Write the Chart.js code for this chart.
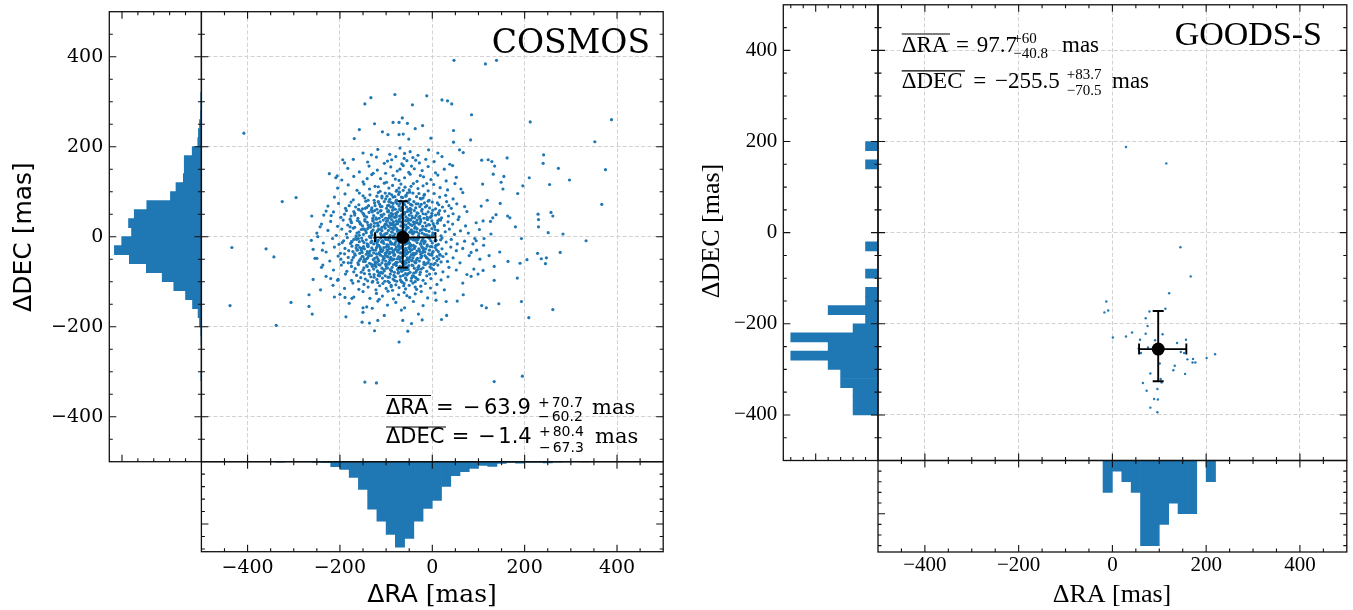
<!DOCTYPE html>
<html><head><meta charset="utf-8">
<script src="https://cdn.jsdelivr.net/npm/chart.js@4.4.1/dist/chart.umd.min.js"></script>
<style>
html,body{margin:0;padding:0;background:#fff;width:1353px;height:610px;overflow:hidden}
canvas{position:absolute;left:0;top:0}
</style></head><body>
<script>
// ---------------- DATA ----------------
const raMajor = [-400,-200,0,200,400];
const raMinor = [-450,-350,-300,-250,-150,-100,-50,50,100,150,250,300,350,450];

// COSMOS histograms (bin centres, counts)
const cosmosRABins   = [-330,-310,-290,-270,-250,-230,-210,-190,-170,-150,-130,-110,-90,-70,-50,-30,-10,10,30,50,70,90,110,130,150,170,190,210,230,250,270,290,310,330];
const cosmosRACounts = [3,0,2,2,5,8,40,62,126,222,380,477,584,686,616,477,375,311,198,113,80,54,29,38,13,5,11,5,5,10,3,2,0,2];
const cosmosDecBins   = [310,290,270,250,230,210,190,170,150,130,110,90,70,50,30,10,-10,-30,-50,-70,-90,-110,-130,-150,-170,-190,-210,-230,-250,-270,-290,-310];
const cosmosDecCounts = [4,4,6,12,19,23,58,108,108,114,160,195,344,423,459,440,502,548,454,347,247,174,100,56,21,12,4,2,0,0,0,3];
const cosmosMean = [-63.9, -1.4];
const cosmosRAErr = [60.2, 70.7];
const cosmosDecErr = [67.3, 80.4];

// COSMOS scatter: sparse outer points [RA, DEC]
const cosmosOuter = [[-408,230],[-434,-24],[-438,-153],[-360,-27],[-343,-45],[-325,78],[-295,87],[-306,-146],[-338,-197],
[-267,-155],[-260,-172],[-267,-129],[-242,-118],[-258,-95],[-254,-48],[-237,-63],[-238,-30],[-248,0],[-243,22],[-261,46],
[-230,57],[-219,47],[-223,140],[-209,131],[-206,135],[-187,-178],[-194,171],[-169,218],[-158,238],[-146,295],[-133,309],
[-81,316],[-12,313],[-43,293],[21,304],[33,302],[42,295],[85,271],[-65,264],[-85,254],[-72,254],[-54,252],[-125,251],
[-108,233],[-96,227],[-72,227],[-63,228],[-51,217],[-37,240],[-21,247],[-3,219],[46,236],[83,215],[46,210],[59,193],[67,187],
[212,255],[388,260],[352,211],[375,149],[367,72],[333,-9],[297,126],[273,152],[241,182],[240,163],[254,116],[210,131],
[196,113],[185,96],[229,50],[257,54],[261,46],[230,38],[230,22],[251,9],[283,6],[277,-35],[247,-47],[236,-49],[245,-60],
[228,-37],[205,-51],[190,-59],[184,-92],[193,-144],[209,-180],[261,-162],[195,-310],[180,22],[193,-4],[163,46],[168,42],
[162,175],[149,121],[155,134],[153,106],[132,139],[135,157],[121,171],[129,167],[107,170],[109,117],[119,81],[147,74],
[138,49],[131,42],[126,34],[106,68],[110,35],[127,6],[112,-4],[95,-9],[88,-16],[96,-30],[111,-19],[103,-50],[123,-42],
[134,-66],[146,-34],[164,-55],[110,-75],[90,-72],[99,-83],[134,-97],[107,-153],[117,-158],[144,-149],[84,-88],[75,-84],
[66,-103],[67,-129],[54,-143],[31,-175],[20,-184],[8,-141],[30,-144],[-22,-185],[-53,-210],[-72,-234],[-64,-186],
[-125,-209],[-136,-192],[-152,-190],[-150,-158],[-174,-137],[-189,-135],[-212,-134],[-220,-93],[-205,-97],
[47,392],[115,384],[139,392],[-146,-323],[-121,-325],[134,-322]];

// COSMOS scatter: dense core [RA, DEC]
const cosmosCore = [
[-150,186],[-118,194],[-92,183],[-70,197],[-48,189],[-31,181],[-8,193],[12,186],[-132,182],[-60,185],
[-171,172],[-140,166],[-121,177],[-104,163],[-88,171],[-79,178],[-66,162],[-55,169],[-42,176],[-28,164],[-14,172],[4,167],[21,178],[38,161],[-97,168],[-61,174],[-36,170],[-190,164],
[-183,152],[-158,144],[-137,157],[-119,148],[-101,141],[-90,155],[-76,146],[-63,158],[-51,143],[-39,151],[-22,147],[-9,156],[7,142],[26,150],[44,158],[-128,141],[-70,150],[-45,157],
[-196,126],[-170,134],[-150,122],[-131,138],[-112,129],[-99,121],[-85,136],[-72,125],[-60,131],[-48,139],[-33,123],[-19,133],[-3,127],[12,137],[30,124],[52,132],[-141,129],[-80,128],[-26,136],
[-205,108],[-182,115],[-163,103],[-148,117],[-136,106],[-124,112],[-113,101],[-104,119],[-94,108],[-86,114],[-77,103],[-68,117],[-59,110],[-50,104],[-41,118],[-31,107],[-20,113],[-9,102],[3,116],[17,109],[33,104],[49,118],[-117,111],[-72,108],[-46,112],[-12,118],[62,106],
[-212,88],[-189,95],[-171,82],[-158,97],[-146,86],[-135,93],[-126,81],[-117,98],[-109,90],[-101,84],[-93,96],[-85,88],[-78,81],[-71,99],[-64,87],[-57,92],[-49,83],[-42,97],[-34,89],[-26,85],[-17,94],[-7,81],[4,96],[16,88],[29,92],[45,84],[66,98],[-120,90],[-88,93],[-54,97],[-20,86],[-150,91],
[-226,68],[-203,74],[-188,63],[-176,77],[-166,66],[-159,71],[-151,62],[-144,79],[-138,69],[-131,64],[-125,75],[-120,61],[-114,72],[-109,67],[-104,78],[-99,63],[-94,70],[-89,76],[-85,65],[-80,61],[-76,73],[-72,68],[-68,79],[-64,62],[-60,71],[-56,66],[-52,76],[-48,63],[-44,70],[-40,78],[-36,64],[-31,73],[-27,67],[-22,61],[-17,75],[-12,69],[-6,64],[0,77],[7,62],[14,71],[22,66],[31,78],[41,63],[53,73],[70,67],[-142,65],[-117,78],[-97,69],[-79,77],[-62,74],[-46,61],[-24,72],[-9,79],[-160,61],[-180,69],[11,75],[36,69],
[-235,48],[-214,55],[-198,43],[-186,58],[-176,46],[-168,52],[-161,41],[-154,57],[-148,49],[-142,44],[-137,54],[-132,59],[-127,47],[-122,42],[-118,53],[-113,57],[-109,45],[-105,50],[-101,41],[-97,56],[-93,47],[-89,52],[-86,59],[-82,43],[-78,49],[-75,55],[-71,46],[-68,58],[-64,41],[-61,51],[-57,44],[-54,56],[-50,48],[-46,53],[-43,42],[-39,58],[-35,47],[-31,52],[-27,45],[-23,57],[-18,41],[-14,50],[-9,55],[-4,44],[1,59],[7,48],[13,53],[20,42],[27,57],[35,46],[45,51],[58,44],[75,56],[-150,52],[-129,41],[-111,48],[-95,58],[-80,44],[-66,49],[-52,59],[-38,42],[-20,51],[-1,47],[16,58],[-170,56],[-190,50],[-125,58],[-87,46],[-59,54],[-11,43],
[-240,28],[-220,34],[-205,23],[-193,37],[-183,26],[-175,31],[-168,21],[-162,36],[-156,29],[-151,24],[-146,38],[-141,32],[-137,22],[-133,27],[-129,35],[-125,30],[-121,39],[-117,25],[-113,33],[-109,21],[-106,37],[-102,28],[-99,34],[-95,23],[-92,31],[-88,38],[-85,26],[-81,22],[-78,35],[-75,29],[-71,39],[-68,24],[-65,32],[-61,27],[-58,36],[-55,21],[-51,30],[-48,38],[-44,25],[-41,33],[-37,22],[-33,37],[-29,28],[-25,34],[-21,23],[-16,31],[-11,39],[-6,26],[-1,35],[5,22],[11,30],[18,37],[26,25],[34,33],[44,28],[56,38],[72,24],[95,31],[-158,33],[-139,26],[-119,30],[-104,24],[-90,27],[-73,34],[-63,21],[-53,35],[-39,28],[-26,39],[-13,24],[2,29],[15,38],[-178,39],[-126,23],[-84,33],[-57,26],[-33,31],
[-250,8],[-226,14],[-208,3],[-196,17],[-186,6],[-178,12],[-171,19],[-165,2],[-159,10],[-154,16],[-149,5],[-144,13],[-140,18],[-136,1],[-132,9],[-128,15],[-124,4],[-120,11],[-116,17],[-112,7],[-109,13],[-105,2],[-102,19],[-98,8],[-95,14],[-91,3],[-88,11],[-84,16],[-81,6],[-77,18],[-74,9],[-70,1],[-67,14],[-63,5],[-60,12],[-56,17],[-53,3],[-49,10],[-46,15],[-42,6],[-38,19],[-34,11],[-30,2],[-26,14],[-22,8],[-17,17],[-12,4],[-7,12],[-1,18],[5,7],[12,14],[19,2],[28,11],[37,17],[48,5],[61,13],[78,8],[102,16],[-147,17],[-131,4],[-118,14],[-100,7],[-86,19],[-69,10],[-58,2],[-44,13],[-29,7],[-15,16],[0,3],[-163,8],[-110,3],[-76,13],[-40,9],
[-262,-8],[-236,-14],[-216,-4],[-202,-17],[-192,-9],[-184,-2],[-177,-15],[-170,-6],[-164,-19],[-158,-11],[-153,-3],[-148,-13],[-143,-7],[-139,-18],[-135,-1],[-131,-10],[-127,-16],[-123,-5],[-119,-12],[-116,-19],[-112,-3],[-108,-9],[-105,-15],[-101,-6],[-98,-18],[-94,-2],[-91,-11],[-87,-16],[-84,-4],[-80,-13],[-77,-8],[-73,-19],[-70,-1],[-66,-12],[-63,-6],[-59,-17],[-56,-3],[-52,-10],[-49,-15],[-45,-5],[-41,-19],[-37,-8],[-33,-13],[-29,-2],[-25,-16],[-21,-7],[-16,-11],[-11,-18],[-6,-4],[0,-14],[6,-9],[13,-17],[21,-3],[30,-12],[41,-6],[54,-16],[70,-10],[92,-4],[-151,-9],[-141,-16],[-125,-2],[-110,-12],[-96,-7],[-82,-17],[-68,-9],[-54,-14],[-39,-3],[-23,-10],[-9,-1],[8,-19],[-175,-11],[-160,-4],[-133,-13],[-117,-8],[-103,-1],[-89,-14],[-75,-5],[-61,-11],[-47,-18],[-31,-6],[-18,-15],[-3,-9],[18,-7],[-195,-13],
[-258,-28],[-230,-34],[-212,-23],[-199,-37],[-189,-26],[-181,-31],[-174,-21],[-168,-38],[-162,-29],[-157,-24],[-152,-35],[-147,-27],[-143,-39],[-139,-22],[-135,-32],[-131,-25],[-127,-36],[-123,-30],[-119,-21],[-116,-38],[-112,-27],[-109,-33],[-105,-24],[-102,-37],[-98,-29],[-95,-22],[-92,-35],[-88,-26],[-85,-31],[-82,-39],[-78,-23],[-75,-34],[-72,-28],[-68,-36],[-65,-21],[-62,-31],[-58,-26],[-55,-38],[-51,-24],[-48,-33],[-44,-29],[-41,-37],[-37,-22],[-33,-32],[-29,-27],[-25,-39],[-21,-25],[-16,-34],[-11,-21],[-6,-30],[0,-36],[6,-24],[13,-33],[21,-27],[30,-38],[40,-23],[52,-31],[66,-26],[84,-35],[-154,-30],[-137,-37],[-121,-25],[-107,-30],[-93,-38],[-80,-28],[-67,-24],[-53,-35],[-39,-26],[-27,-33],[-14,-27],[-1,-22],[16,-39],[-172,-33],[-149,-22],[-129,-29],[-114,-35],[-100,-23],[-86,-35],[-73,-21],[-60,-35],[-46,-21],[-35,-37],[-19,-31],[-8,-38],[9,-29],[-190,-38],[-165,-25],[-141,-33],[-97,-32],[-56,-30],[-23,-22],
[-250,-48],[-222,-54],[-204,-43],[-192,-57],[-182,-46],[-174,-52],[-167,-41],[-161,-58],[-155,-49],[-150,-44],[-145,-55],[-140,-47],[-136,-59],[-132,-42],[-128,-51],[-124,-56],[-120,-45],[-116,-53],[-112,-41],[-109,-58],[-105,-48],[-101,-54],[-98,-43],[-94,-57],[-90,-46],[-87,-52],[-83,-41],[-80,-59],[-76,-49],[-73,-44],[-69,-55],[-66,-47],[-62,-58],[-59,-42],[-55,-51],[-51,-56],[-48,-45],[-44,-53],[-40,-41],[-36,-58],[-32,-48],[-28,-54],[-23,-43],[-18,-57],[-13,-46],[-7,-52],[-1,-41],[6,-59],[14,-49],[23,-44],[33,-55],[45,-47],[60,-58],[80,-42],[-158,-53],[-138,-43],[-122,-59],[-107,-44],[-92,-51],[-78,-57],[-64,-43],[-50,-50],[-38,-56],[-25,-47],[-10,-58],[3,-48],[-176,-58],[-147,-50],[-118,-49],[-96,-45],[-71,-50],[-57,-59],[-42,-47],[-16,-42],[10,-53],[-198,-50],
[-240,-68],[-214,-74],[-197,-63],[-185,-77],[-175,-66],[-167,-71],[-160,-62],[-154,-79],[-148,-69],[-142,-64],[-137,-75],[-132,-61],[-127,-72],[-122,-67],[-118,-78],[-113,-63],[-109,-70],[-104,-76],[-100,-65],[-95,-61],[-91,-73],[-87,-68],[-82,-79],[-78,-64],[-74,-71],[-70,-66],[-66,-77],[-61,-62],[-57,-73],[-53,-68],[-48,-79],[-44,-63],[-39,-70],[-34,-75],[-29,-65],[-24,-72],[-18,-61],[-12,-77],[-5,-67],[3,-73],[12,-63],[23,-78],[36,-68],[52,-74],[-150,-74],[-130,-66],[-111,-79],[-97,-69],[-84,-62],[-68,-73],[-51,-64],[-36,-79],[-20,-69],[-3,-61],[-170,-78],[-125,-62],[-89,-76],[-59,-70],
[-230,-88],[-204,-95],[-188,-83],[-175,-97],[-164,-86],[-155,-91],[-147,-82],[-140,-98],[-133,-89],[-126,-84],[-120,-95],[-114,-81],[-108,-92],[-102,-87],[-96,-99],[-91,-83],[-85,-94],[-80,-89],[-74,-81],[-69,-96],[-63,-86],[-58,-92],[-52,-82],[-46,-98],[-40,-88],[-33,-94],[-27,-84],[-20,-97],[-12,-87],[-3,-93],[7,-82],[19,-96],[34,-89],[-145,-94],[-117,-86],[-93,-90],[-77,-99],[-55,-85],[-36,-91],[-6,-83],[-160,-99],
[-215,-108],[-190,-115],[-172,-103],[-159,-117],[-148,-106],[-139,-112],[-130,-101],[-122,-118],[-114,-109],[-107,-104],[-100,-115],[-93,-102],[-86,-119],[-79,-107],[-72,-113],[-65,-101],[-58,-116],[-50,-108],[-42,-103],[-34,-117],[-25,-110],[-15,-104],[-4,-114],[10,-106],[26,-118],[-118,-102],[-89,-111],[-62,-109],[-37,-112],
[-200,-128],[-170,-134],[-150,-122],[-135,-137],[-121,-126],[-108,-132],[-96,-121],[-84,-138],[-73,-129],[-61,-124],[-49,-135],[-37,-127],[-24,-122],[-10,-136],[6,-125],[-115,-139],[-55,-131],
[-180,-148],[-142,-156],[-118,-143],[-97,-152],[-79,-146],[-60,-158],[-41,-144],[-20,-153],[-130,-159],
[-150,-168],[-104,-175],[-67,-163],[-30,-172],[-118,-186],[-45,-193]];

// COSMOS scatter: additional points in the crowded centre [RA, DEC]
const cosmosCentre = [[-66,3],[-71,-22],[-58,14],[-80,-5],[-49,-27],[-90,19],[-62,-41],[-75,31],[-55,-12],[-84,-33],[-44,8],[-97,-18],[-68,45],[-38,-38],[-103,6],[-59,-55],[-79,52],[-33,18],[-112,-29],[-47,37],[-88,-49],[-26,-16],[-118,24],[-64,-68],[-95,41],[-36,-57],[-123,-8],[-52,61],[-107,-52],[-29,43],[-131,12],[-73,-79],[-86,67],[-21,-35],[-140,-21],[-57,79],[-99,-70],[-17,5],[-146,35],[-40,-81],[-111,58],[-11,-48],[-152,-44],[-67,88],[-124,-64],[-8,27],[-158,3],[-31,-95],[-92,83],[-4,-22],[-163,-30],[-49,99],[-136,-83],[-1,52],[-168,48],[-82,-97],[-117,77],[3,-62],[-174,-11],[-24,84],[-145,63],[8,-8],[-178,22],[-61,-104],[-102,97],[12,35],[-182,-58],[-15,66],[-129,-99],[17,-41],[-73,14],[-56,-2],[-81,-17],[-63,24],[-48,-19],[-92,-3],[-70,-36],[-39,11],[-86,30],[-59,-30],[-101,-41],[-44,46],[-76,-57],[-95,55],[-34,-6],[-111,16],[-52,-73],[-66,65],[-27,29],[-120,-15],[-42,-64],[-85,74],[-19,-26],[-128,37],[-69,-88],[-105,-73],[-13,14],[-137,-37],[-57,90],[-96,-90],[-9,-58],[-143,9],[-35,73],[-114,-87],[-4,43],[-149,-55],[-78,101],[-130,55],[2,-33],[-155,28],[-26,-79],[-109,86],[6,16],[-161,-19],[-89,-108],[-60,0],[-74,-9],[-52,20],[-87,10],[-66,-25],[-45,-40],[-99,27],[-78,44],[-61,50],[-39,-25],[-92,-58],[-54,-47],[-82,-41],[-30,0],[-107,-10],[-71,61],[-48,58],[-115,41],[-24,-45],[-65,-58],[-101,-61],[-33,53],[-125,-48],[-58,-82],[-90,66],[-16,-10],[-133,-2],[-45,-92],[-77,81],[-10,38],[-141,-66],[-63,103],[-119,-76],[-5,-40],[-150,17],[-29,96],[-103,-99],[1,8],[-157,-37],[-83,-86],[-98,90],[9,-19],[-165,-1],[-37,-100],[-124,69],[14,50],[-171,-46],[-56,-96],[-139,81],[19,-56],[-176,34],[-18,92],[-72,-14],[-84,2],[-55,-15],[-68,33],[-93,-27],[-47,27],[-79,-62],[-60,-34],[-104,-47],[-41,-7],[-86,50],[-53,40],[-113,-23],[-34,-51],[-70,74],[-97,36],[-28,-30],[-121,-38],[-62,-74],[-108,-81],[-22,16],[-134,21],[-50,82],[-88,-76],[-15,-62],[-142,-49],[-73,94],[-126,-90],[-7,2],[-147,46],[-43,-87],[-112,67],[-2,-70],[-153,-26],[-67,-100],[-94,78],[4,24],[-159,60],[-31,-68],[-116,-62],[10,-44],[-164,-6],[-80,27],[-76,-30],[-57,-67],[-90,-16],[-65,10],[-50,-5],[-83,-50],[-69,-46],[-44,-53],[-99,-35],[-58,35],[-91,44],[-37,32],[-106,1],[-75,-73],[-47,72],[-118,-55],[-30,-72],[-81,89],[-20,-3]];

// GOODS-S
const goodsPoints = [[29,188],[115,152],[145,-32],[167,-96],[121,-133],[113,-167],[-13,-151],[-17,-175],[-9,-171],[79,-173],
[71,-188],[75,-205],[71,-222],[42,-219],[29,-228],[1,-230],[59,-235],[91,-236],[107,-223],[138,-242],[157,-235],[76,-252],
[56,-254],[61,-264],[146,-262],[153,-264],[160,-278],[172,-277],[171,-285],[177,-285],[201,-275],[219,-267],[101,-287],
[133,-292],[130,-302],[155,-310],[81,-309],[103,-321],[105,-329],[65,-330],[73,-347],[96,-343],[89,-365],[97,-366],
[81,-384],[96,-394],[95,-255]];
const goodsRABins   = [-10,10,30,50,70,90,110,130,150,170,190,210];
const goodsRACounts = [3,1,2,3,8,8,6,4,5,5,0,2];
const goodsDecBins   = [190,170,150,130,110,90,70,50,30,10,-10,-30,-50,-70,-90,-110,-130,-150,-170,-190,-210,-230,-250,-270,-290,-310,-330,-350,-370,-390];
const goodsDecCounts = [1,0,1,0,0,0,0,0,0,0,0,1,0,0,1,0,1,1,4,1,2,7,4,7,4,3,3,2,2,2];
const goodsMean = [97.7, -255.5];
const goodsRAErr = [40.8, 60];
const goodsDecErr = [70.5, 83.7];

// ---------------- HELPERS ----------------
const W = 1353, H = 610;
const BLUE = '#1f77b4';
const LBL = 100;   // room reserved for tick labels
const fmt = v => (v < 0 ? '\u2212' : '') + Math.abs(v);
function mkCanvas(){ const c=document.createElement('canvas'); c.width=W; c.height=H; c.style.width=W+'px'; c.style.height=H+'px'; document.body.appendChild(c); return c; }
function pad(b, extraL, extraB){ return {left:b[0]-(extraL||0), top:b[1], right:W-b[2], bottom:H-b[3]-(extraB||0)}; }
function axis(o){
  const size = o.size || 0;
  return {
    type:'linear', min:o.min, max:o.max, reverse:!!o.reverse, offset:false,
    position:o.position,
    afterFit: s => { if (s.isHorizontal()) s.height = size; else s.width = size;
                     s.paddingTop = 0; s.paddingBottom = 0; s.paddingLeft = 0; s.paddingRight = 0; },
    afterBuildTicks: s => { s.ticks = (o.ticks||[]).map(v => ({value:v})); },
    ticks:{ display:!!o.labels, callback:v=>fmt(v), color:'#000', padding:o.padding||6, font:o.font, autoSkip:false, maxRotation:0, minRotation:0 },
    grid:{ display:!!o.grid, drawTicks:false, color:'#d2d2d2', lineWidth:1, offset:false },
    border:{ display:false, dash:[4,2.2] }
  };
}
function frame(spec){
  return { id:'frame', afterDatasetsDraw(chart){
    const {ctx, chartArea:a} = chart; const xs = chart.scales.x, ys = chart.scales.y;
    ctx.save(); ctx.strokeStyle = '#111'; ctx.lineWidth = 1.1; ctx.beginPath();
    const ML = 7, ml = 3.5;
    const doX = (vals, len) => vals.forEach(v => { const p = xs.getPixelForValue(v); if (p < a.left+1 || p > a.right-1) return;
      ctx.moveTo(p, a.bottom); ctx.lineTo(p, a.bottom-len); ctx.moveTo(p, a.top); ctx.lineTo(p, a.top+len); });
    const doY = (vals, len) => vals.forEach(v => { const p = ys.getPixelForValue(v); if (p < a.top+1 || p > a.bottom-1) return;
      ctx.moveTo(a.left, p); ctx.lineTo(a.left+len, p); ctx.moveTo(a.right, p); ctx.lineTo(a.right-len, p); });
    doX(spec.xMajor||[], ML); doX(spec.xMinor||[], ml); doY(spec.yMajor||[], ML); doY(spec.yMinor||[], ml);
    ctx.stroke();
    ctx.lineWidth = 1.3; ctx.strokeRect(a.left, a.top, a.right-a.left, a.bottom-a.top);
    ctx.restore();
  }};
}
function errbar(mean, exErr, eyErr, cap){
  return { id:'errbar', afterDatasetsDraw(chart){
    const {ctx} = chart; const xs = chart.scales.x, ys = chart.scales.y;
    const cx = xs.getPixelForValue(mean[0]), cy = ys.getPixelForValue(mean[1]);
    const x0 = xs.getPixelForValue(mean[0]-exErr[0]), x1 = xs.getPixelForValue(mean[0]+exErr[1]);
    const y0 = ys.getPixelForValue(mean[1]-eyErr[0]), y1 = ys.getPixelForValue(mean[1]+eyErr[1]);
    ctx.save(); ctx.strokeStyle = '#000'; ctx.lineWidth = 1.9; ctx.beginPath();
    ctx.moveTo(x0, cy); ctx.lineTo(x1, cy); ctx.moveTo(cx, y0); ctx.lineTo(cx, y1);
    ctx.moveTo(x0, cy-cap); ctx.lineTo(x0, cy+cap); ctx.moveTo(x1, cy-cap); ctx.lineTo(x1, cy+cap);
    ctx.moveTo(cx-cap, y0); ctx.lineTo(cx+cap, y0); ctx.moveTo(cx-cap, y1); ctx.lineTo(cx+cap, y1);
    ctx.stroke(); ctx.restore();
  }};
}
const baseOpts = { responsive:false, animation:false, devicePixelRatio:1,
  plugins:{ legend:{display:false}, tooltip:{enabled:false} }, events:[] };

function scatterChart(box, pts, mean, exErr, eyErr, r, cap){
  return new Chart(mkCanvas(), {
    type:'scatter',
    data:{ datasets:[
      { data:[{x:mean[0], y:mean[1]}], pointRadius:6.5, pointBackgroundColor:'#000', pointBorderWidth:0 },
      { data:pts.map(p => ({x:p[0], y:p[1]})), pointRadius:r, pointBackgroundColor:BLUE, pointBorderWidth:0 }
    ]},
    options:{ ...baseOpts, layout:{padding:pad(box), autoPadding:false},
      scales:{ x:axis({min:-500,max:500,ticks:raMajor,grid:true,position:'bottom'}),
               y:axis({min:-500,max:500,ticks:raMajor,grid:true,position:'left'}) } },
    plugins:[errbar(mean, exErr, eyErr, cap), frame({xMajor:raMajor,xMinor:raMinor,yMajor:raMajor,yMinor:raMinor})]
  });
}
function leftHist(box, bins, counts, cmax, cMajor, cMinor, font, padding){
  return new Chart(mkCanvas(), {
    type:'bar',
    data:{ datasets:[{ data:bins.map((b,i) => ({y:b, x:counts[i]})), backgroundColor:BLUE, borderWidth:0, barPercentage:1, categoryPercentage:1 }]},
    options:{ ...baseOpts, indexAxis:'y', layout:{padding:pad(box, LBL, 0), autoPadding:false},
      scales:{ x:axis({min:0,max:cmax,reverse:true,ticks:[],position:'bottom'}),
               y:axis({min:-500,max:500,ticks:raMajor,labels:true,font,padding,position:'left',size:LBL}) } },
    plugins:[frame({xMajor:cMajor,xMinor:cMinor,yMajor:raMajor,yMinor:raMinor})]
  });
}
function bottomHist(box, bins, counts, cmax, cMajor, cMinor, font, padding){
  return new Chart(mkCanvas(), {
    type:'bar',
    data:{ datasets:[{ data:bins.map((b,i) => ({x:b, y:counts[i]})), backgroundColor:BLUE, borderWidth:0, barPercentage:1, categoryPercentage:1 }]},
    options:{ ...baseOpts, layout:{padding:pad(box, 0, 40), autoPadding:false},
      scales:{ x:axis({min:-500,max:500,ticks:raMajor,labels:true,font,padding,position:'bottom',size:40}),
               y:axis({min:0,max:cmax,reverse:true,ticks:[],position:'left'}) } },
    plugins:[frame({xMajor:raMajor,xMinor:raMinor,yMajor:cMajor,yMinor:cMinor})]
  });
}

// ---------------- CHARTS ----------------
const fC = {family:'DejaVu Serif', size:19};
const fG = {family:'Liberation Serif', size:21};
leftHist([109.3,11.7,201.4,461.7], cosmosDecBins, cosmosDecCounts, 580, [500], [100,200,300,400], fC, 6);
bottomHist([201.4,461.7,663.2,551.7], cosmosRABins, cosmosRACounts, 722, [500], [100,200,300,400,600,700], fC, 5);
scatterChart([201.4,11.7,663.2,461.7], cosmosOuter.concat(cosmosCore, cosmosCentre), cosmosMean, cosmosRAErr, cosmosDecErr, 1.6, 5);

leftHist([783.3,4.8,878,460.5], goodsDecBins, goodsDecCounts, 7.6, [5], [1,2,3,4,6,7], fG, 6);
bottomHist([878,460.5,1346.8,552], goodsRABins, goodsRACounts, 8.6, [5], [1,2,3,4,6,7,8], fG, 1);
scatterChart([878,4.8,1346.8,460.5], goodsPoints, goodsMean, goodsRAErr, goodsDecErr, 1.2, 5.5);

// ---------------- TEXT ----------------
(function(){
  const c = mkCanvas(); const ctx = c.getContext('2d');
  ctx.fillStyle = '#000'; ctx.strokeStyle = '#000';
  function t(s, x, y, font, align){ ctx.font = font; ctx.textAlign = align||'left'; ctx.textBaseline = 'alphabetic'; ctx.fillText(s, x, y); }
  function over(x0, x1, y){ ctx.save(); ctx.lineWidth = 1.2; ctx.beginPath(); ctx.moveTo(x0, y); ctx.lineTo(x1, y); ctx.stroke(); ctx.restore(); }
  function rot(s, x, y, font){ ctx.save(); ctx.translate(x, y); ctx.rotate(-Math.PI/2); t(s, 0, 0, font, 'center'); ctx.restore(); }
  // COSMOS
  const S = '21px "DejaVu Sans"', SS = '14px "DejaVu Sans"', SR = '21px "DejaVu Serif"';
  t('COSMOS', 650, 53, '33px "DejaVu Serif"', 'right');
  t('\u0394RA', 386, 414.3, S); over(386, 431, 395.5);
  t('=', 436, 414.3, S); t('\u2212', 463, 414.3, S); t('63.9', 484, 414.3, S);
  t('+', 538, 406.7, SS); t('70.7', 551.7, 406.7, SS); t('\u2212', 538, 420.5, SS); t('60.2', 551.7, 420.5, SS);
  t('mas', 592, 414.3, SR);
  t('\u0394DEC', 386, 443.3, S); over(386, 446, 427);
  t('=', 451.7, 443.3, S); t('\u2212', 478.3, 443.3, S); t('1.4', 498.3, 443.3, S);
  t('+', 539, 436, SS); t('80.4', 552.7, 436, SS); t('\u2212', 539, 451.7, SS); t('67.3', 552.7, 451.7, SS);
  t('mas', 595, 443.3, SR);
  // COSMOS axis titles
  ctx.font = '25px "DejaVu Sans"'; const w1 = ctx.measureText('\u0394RA ').width;
  ctx.font = '25px "DejaVu Serif"'; const w2 = ctx.measureText('[mas]').width;
  const x0 = 432 - (w1+w2)/2;
  t('\u0394RA ', x0, 602, '25px "DejaVu Sans"'); t('[mas]', x0+w1, 602, '25px "DejaVu Serif"');
  rot('\u0394DEC [mas]', 31, 237, '25px "DejaVu Sans"');
  // GOODS-S
  const G = '23px "Liberation Serif"', GS = '15px "Liberation Serif"';
  t('GOODS-S', 1322, 44.5, '34px "Liberation Serif"', 'right');
  t('\u0394RA', 901.7, 52, G); over(901.7, 950, 34);
  t('=', 956, 52, G); t('97.7', 976.7, 52, G);
  t('+60', 1013.3, 42.5, GS); t('\u221240.8', 1013.3, 58, GS);
  t('mas', 1062, 52, G);
  t('\u0394DEC', 901.7, 88.2, G); over(901.7, 965, 70.8);
  t('=', 973.3, 88.2, G); t('\u2212255.5', 995, 88.2, G);
  t('+83.7', 1066.7, 79.3, GS); t('\u221270.5', 1066.7, 94.8, GS);
  t('mas', 1112, 88.2, G);
  t('\u0394RA [mas]', 1112, 601.5, '26px "Liberation Serif"', 'center');
  rot('\u0394DEC [mas]', 719, 231, '26px "Liberation Serif"');
})();
</script>
</body></html>
